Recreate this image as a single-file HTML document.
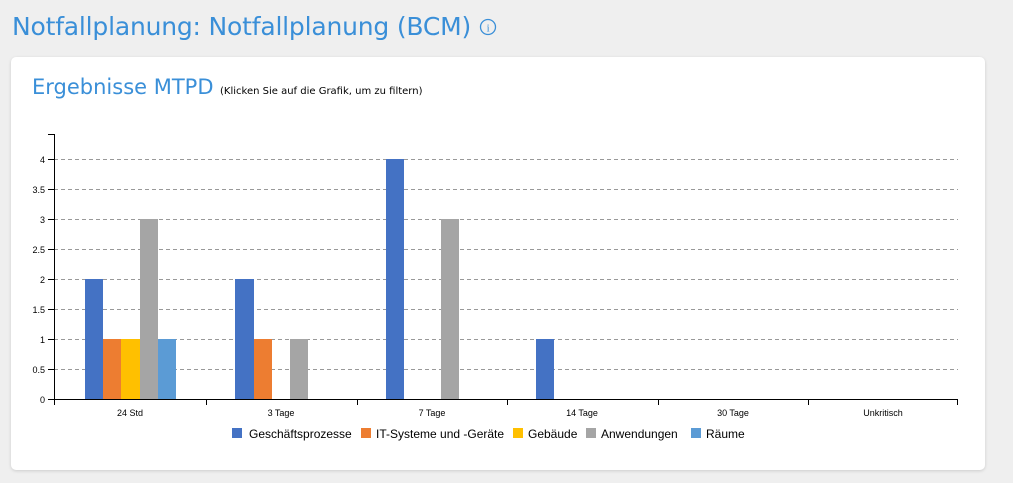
<!DOCTYPE html>
<html><head><meta charset="utf-8"><style>
body{margin:0;width:1013px;height:483px;background:#efefef;font-family:"Liberation Sans",sans-serif;overflow:hidden;position:relative}
h1{position:absolute;left:12px;top:12px;margin:0;font-weight:normal;font-size:25px;color:#3a8fd8;font-family:"DejaVu Sans","Liberation Sans",sans-serif;letter-spacing:-0.2px}
.card{position:absolute;left:11px;top:57px;width:974px;height:413px;background:#fff;border-radius:5px;box-shadow:0 1px 3px rgba(0,0,0,.15)}
</style></head><body>
<h1>Notfallplanung: Notfallplanung (BCM) <svg width="18" height="18" style="vertical-align:-1px"><circle cx="9" cy="9" r="7.5" fill="none" stroke="#3a8fd8" stroke-width="1.3"/><text x="9" y="13.5" font-size="11" text-anchor="middle" fill="#3a8fd8" font-family="Liberation Serif">i</text></svg></h1>
<div class="card"></div>
<svg width="1013" height="483" style="position:absolute;left:0;top:0" font-family="Liberation Sans, sans-serif">
<text x="32" y="94" font-size="21" fill="#3a8fd8" font-family="DejaVu Sans, sans-serif">Ergebnisse MTPD</text>
<text x="220" y="94" font-size="10" fill="#000" font-family="DejaVu Sans, sans-serif">(Klicken Sie auf die Grafik, um zu filtern)</text>
<g stroke="#999" stroke-dasharray="4,3" stroke-width="1">
<line x1="54" x2="958" y1="159.5" y2="159.5"/><line x1="54" x2="958" y1="189.5" y2="189.5"/><line x1="54" x2="958" y1="219.5" y2="219.5"/><line x1="54" x2="958" y1="249.5" y2="249.5"/><line x1="54" x2="958" y1="279.5" y2="279.5"/><line x1="54" x2="958" y1="309.5" y2="309.5"/><line x1="54" x2="958" y1="339.5" y2="339.5"/><line x1="54" x2="958" y1="369.5" y2="369.5"/>
</g>
<g>
<rect x="85" y="279" width="18" height="120" fill="#4472c4"/>
<rect x="103" y="339" width="18" height="60" fill="#ed7d31"/>
<rect x="121" y="339" width="19" height="60" fill="#ffc000"/>
<rect x="140" y="219" width="18" height="180" fill="#a5a5a5"/>
<rect x="158" y="339" width="18" height="60" fill="#5b9bd5"/>
<rect x="235" y="279" width="19" height="120" fill="#4472c4"/>
<rect x="254" y="339" width="18" height="60" fill="#ed7d31"/>
<rect x="290" y="339" width="18" height="60" fill="#a5a5a5"/>
<rect x="386" y="159" width="18" height="240" fill="#4472c4"/>
<rect x="441" y="219" width="18" height="180" fill="#a5a5a5"/>
<rect x="536" y="339" width="18" height="60" fill="#4472c4"/>
</g>
<g stroke="#000" stroke-width="1">
<line x1="54.5" y1="134" x2="54.5" y2="405"/>
<line x1="48" y1="399.5" x2="958" y2="399.5"/>
<line x1="48" y1="134.5" x2="54" y2="134.5"/>
<line x1="48" y1="159.5" x2="54" y2="159.5"/><line x1="48" y1="189.5" x2="54" y2="189.5"/><line x1="48" y1="219.5" x2="54" y2="219.5"/><line x1="48" y1="249.5" x2="54" y2="249.5"/><line x1="48" y1="279.5" x2="54" y2="279.5"/><line x1="48" y1="309.5" x2="54" y2="309.5"/><line x1="48" y1="339.5" x2="54" y2="339.5"/><line x1="48" y1="369.5" x2="54" y2="369.5"/>
<line x1="206.5" y1="399" x2="206.5" y2="405"/><line x1="357.5" y1="399" x2="357.5" y2="405"/><line x1="507.5" y1="399" x2="507.5" y2="405"/><line x1="658.5" y1="399" x2="658.5" y2="405"/><line x1="808.5" y1="399" x2="808.5" y2="405"/><line x1="957.5" y1="399" x2="957.5" y2="405"/>
</g>
<g font-size="9" text-anchor="end" fill="#000">
<text x="45" y="163">4</text><text x="45" y="193">3.5</text><text x="45" y="223">3</text><text x="45" y="253">2.5</text><text x="45" y="283">2</text><text x="45" y="313">1.5</text><text x="45" y="343">1</text><text x="45" y="373">0.5</text><text x="45" y="403">0</text>
</g>
<g font-size="9" text-anchor="middle" fill="#000">
<text x="130" y="416">24 Std</text><text x="281" y="416">3 Tage</text><text x="432" y="416">7 Tage</text><text x="582" y="416">14 Tage</text><text x="733" y="416">30 Tage</text><text x="883" y="416">Unkritisch</text>
</g>
<g font-size="12" fill="#000">
<rect x="232" y="428" width="10" height="10" fill="#4472c4"/><text x="249" y="438">Geschäftsprozesse</text>
<rect x="361" y="428" width="10" height="10" fill="#ed7d31"/><text x="376" y="438">IT-Systeme und -Geräte</text>
<rect x="513" y="428" width="10" height="10" fill="#ffc000"/><text x="528" y="438">Gebäude</text>
<rect x="586" y="428" width="10" height="10" fill="#a5a5a5"/><text x="601" y="438">Anwendungen</text>
<rect x="691" y="428" width="10" height="10" fill="#5b9bd5"/><text x="706" y="438">Räume</text>
</g>
</svg>
</body></html>
